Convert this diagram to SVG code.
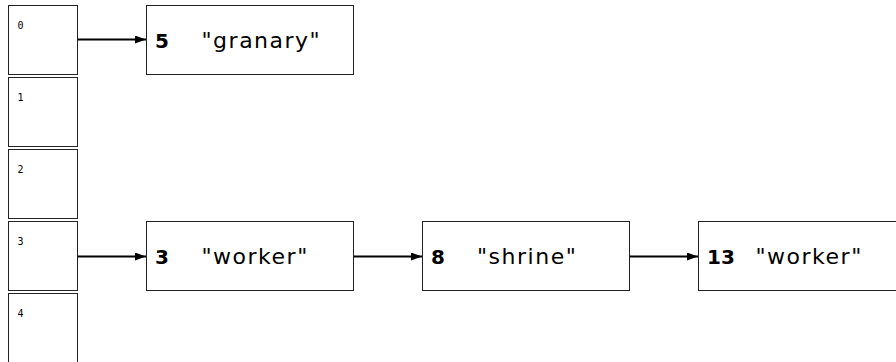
<svg xmlns="http://www.w3.org/2000/svg" width="896" height="362" viewBox="0 0 896 362">
<style>
.bucket{fill:#fff;stroke:#222;stroke-width:1}
.node{fill:#fff;stroke:#222;stroke-width:1}
.idx{font-family:"DejaVu Sans Mono",monospace;font-size:10px;fill:#000}
.num{font-family:"DejaVu Sans",sans-serif;font-size:20px;font-weight:bold;fill:#000}
.str{font-family:"DejaVu Sans",sans-serif;font-size:22px;letter-spacing:1.5px;fill:#000}
.edge{stroke:#000;stroke-width:2;fill:none;marker-end:url(#arr)}
</style>
<defs>
<marker id="arr" markerUnits="userSpaceOnUse" markerWidth="12" markerHeight="8" refX="11" refY="4" orient="auto">
<path d="M0,0 L11,4 L0,8 Z" fill="#000"/>
</marker>
</defs>
<rect width="896" height="362" fill="#fff"/>
<g id="bucket0"><rect class="bucket" x="8.5" y="5.5" width="69" height="69"/><text class="idx" x="17.5" y="29">0</text></g>
<g id="bucket1"><rect class="bucket" x="8.5" y="77.5" width="69" height="69"/><text class="idx" x="17.5" y="101">1</text></g>
<g id="bucket2"><rect class="bucket" x="8.5" y="149.5" width="69" height="69"/><text class="idx" x="17.5" y="173">2</text></g>
<g id="bucket3"><rect class="bucket" x="8.5" y="221.5" width="69" height="69"/><text class="idx" x="17.5" y="245">3</text></g>
<g id="bucket4"><rect class="bucket" x="8.5" y="293.5" width="69" height="75"/><text class="idx" x="17.5" y="317">4</text></g>
<g id="node-granary"><rect class="node" x="146.5" y="5.5" width="207" height="69"/><text class="num" x="155" y="47.5">5</text><text class="str" x="201.5" y="47.5">"granary"</text></g>
<g id="node-worker3"><rect class="node" x="146.5" y="221.5" width="207" height="69"/><text class="num" x="155" y="263.5">3</text><text class="str" x="201.5" y="263.5">"worker"</text></g>
<g id="node-shrine"><rect class="node" x="422.5" y="221.5" width="207" height="69"/><text class="num" x="431" y="263.5">8</text><text class="str" x="477" y="263.5">"shrine"</text></g>
<g id="node-worker13"><rect class="node" x="698.5" y="221.5" width="207" height="69"/><text class="num" x="707" y="263.5">13</text><text class="str" x="755.5" y="263.5">"worker"</text></g>
<g id="connectors">
<line class="edge" x1="77.5" y1="39.5" x2="146" y2="39.5"/>
<line class="edge" x1="77.5" y1="256.5" x2="146" y2="256.5"/>
<line class="edge" x1="353.5" y1="256.5" x2="422" y2="256.5"/>
<line class="edge" x1="629.5" y1="256.5" x2="698" y2="256.5"/>
</g>
</svg>
